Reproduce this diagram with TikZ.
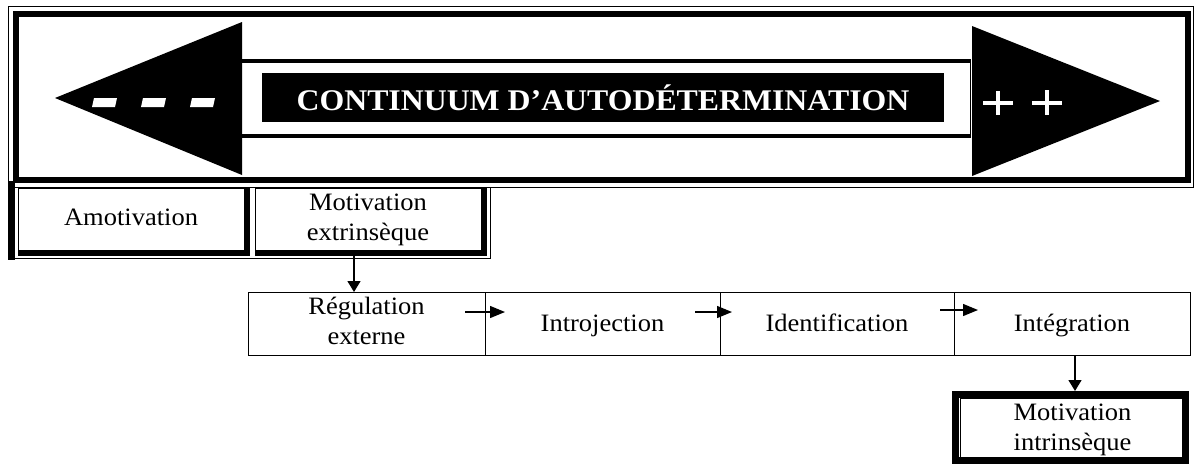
\documentclass[tikz,border=0pt]{standalone}
\usepackage{fontspec}
\setmainfont{Liberation Serif}[FakeStretch=1.06]
\usetikzlibrary{arrows.meta,calc}
\begin{document}
\begin{tikzpicture}[x=1pt,y=-1pt,
  lbl/.style={font=\fontsize{25}{30}\selectfont, align=center},
  cell/.style={lbl, draw, line width=1pt, inner sep=0pt, outer sep=0pt},
  shadowline/.style={line width=6pt},
  link/.style={-{Triangle[length=11pt,width=13pt]}, line width=1.4pt},
  step link/.style={-{Triangle[length=15pt,width=12pt]}, line width=1.3pt},
]
\useasboundingbox (0,0) rectangle (1195,467);

% double frame around the continuum
\draw[line width=1pt] (8,6) rectangle (1193,187);
\draw[line width=6pt] (15.5,13.5) rectangle (1187.5,180);

% the double-headed continuum arrow
\fill (55,98) -- (242,22) -- (242,175) -- cycle;
\fill (1160,101) -- (972,26) -- (972,176) -- cycle;
\draw[line width=4pt] (242,61) -- (971,61) (242,136) -- (971,136);
\draw[line width=1pt] (970,61) -- (970,136);

\node[fill=black, text=white, minimum width=682pt, minimum height=49pt,
      inner sep=0pt, font=\fontsize{30}{36}\selectfont\bfseries]
      (title) at (603,97.5) {CONTINUUM D’AUTODÉTERMINATION};

% minus signs on the left head
\fill[white] (94,98) -- (117,98) -- (115,107) -- (92,107) -- cycle;
\fill[white] (143,98) -- (166,98) -- (164,107) -- (141,107) -- cycle;
\fill[white] (192,98) -- (215,98) -- (213,107) -- (190,107) -- cycle;

% plus signs on the right head
\draw[white, line width=4pt] (983,103) -- (1013,103) (998,91) -- (998,115);
\draw[white, line width=4pt] (1032,103) -- (1062,103) (1047,90) -- (1047,115);

% amotivation / extrinsic motivation group
\node[cell, minimum width=226pt, minimum height=62pt] (amo) at (131,219) {Amotivation\strut};
\node[cell, minimum width=226pt, minimum height=62pt] (mext) at (368,219) {Motivation\strut\\extrinsèque\strut};
\draw[shadowline] ([xshift=3pt]amo.north east) -- ([xshift=3pt,yshift=-3pt]amo.south east)
                  -- ([yshift=-3pt]amo.south west);
\draw[shadowline] ([xshift=3pt]mext.north east) -- ([xshift=3pt,yshift=-3pt]mext.south east)
                  -- ([yshift=-3pt]mext.south west);
\draw[line width=7pt] (11.5,181) -- (11.5,260);
\draw[line width=1pt] (8,258) -- (490,258) -- (490,187);

% the four regulation types
\node[cell, minimum width=237pt, minimum height=63pt] (reg) at (366.5,323.5) {Régulation\strut\\externe\strut};
\node[cell, minimum width=235pt, minimum height=63pt, text depth=6pt] (intro) at (602.5,323.5) {Introjection\strut};
\node[cell, minimum width=234pt, minimum height=63pt, text depth=6pt] (ident) at (837,323.5) {Identification\strut};
\node[cell, minimum width=236pt, minimum height=63pt, text depth=6pt] (integ) at (1072,323.5) {Intégration\strut};

% intrinsic motivation
\node[draw, line width=7pt, minimum width=230.5pt, minimum height=66pt, inner sep=0pt]
      (mintframe) at (1070.25,427.5) {};
\node[cell, minimum width=225pt, minimum height=62pt] (mint) at (1072.5,429) {Motivation\strut\\intrinsèque\strut};

% connectors
\coordinate (drop1) at (354,0);
\coordinate (drop2) at (1075,0);
\draw[link] (mext.south -| drop1) -- (reg.north -| drop1);
\draw[link] (integ.south -| drop2) -- (mintframe.north -| drop2);

\coordinate (s1a) at (465,312);  \coordinate (s1b) at (505,312);
\coordinate (s2a) at (695,312);  \coordinate (s2b) at (732,312);
\coordinate (s3a) at (940,310);  \coordinate (s3b) at (978,310);
\draw[step link] (s1a) -- (s1b);
\draw[step link] (s2a) -- (s2b);
\draw[step link] (s3a) -- (s3b);
\end{tikzpicture}
\end{document}
